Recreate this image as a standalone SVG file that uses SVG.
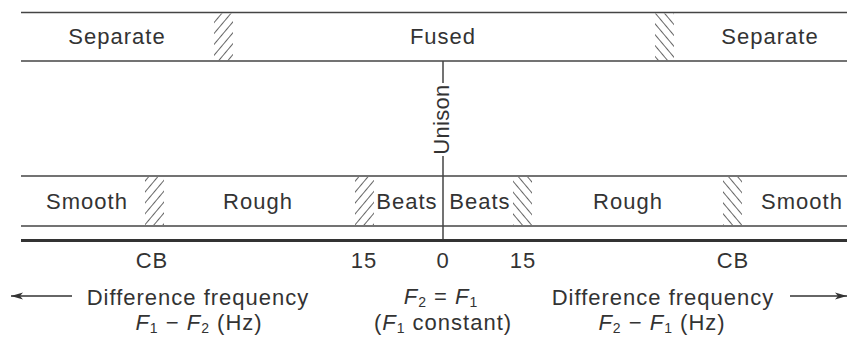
<svg xmlns="http://www.w3.org/2000/svg" width="847" height="339" viewBox="0 0 847 339">
  <style>
    text { font-family: "Liberation Sans", Arial, Helvetica, sans-serif; font-size: 22px; fill: #333; letter-spacing: 1px; }
    .mid { text-anchor: middle; }
    .it { font-style: italic; }
    .sub { font-size: 14px; }
    .rule { stroke: #444; stroke-width: 1.5; fill: none; }
    .base { stroke: #333; stroke-width: 3; fill: none; }
    .arrow { stroke: #333; stroke-width: 1.5; fill: none; }
  </style>
  <defs>
    <pattern id="hatchUp" width="8" height="7" patternUnits="userSpaceOnUse" patternTransform="rotate(-50)">
      <line x1="0" y1="3.5" x2="8" y2="3.5" stroke="#666" stroke-width="1"/>
    </pattern>
    <pattern id="hatchDown" width="8" height="7" patternUnits="userSpaceOnUse" patternTransform="rotate(50)">
      <line x1="0" y1="3.5" x2="8" y2="3.5" stroke="#666" stroke-width="1"/>
    </pattern>
    <marker id="head" viewBox="0 0 12 8" refX="12" refY="4" markerWidth="12" markerHeight="8" markerUnits="userSpaceOnUse" orient="auto">
      <path d="M0,0.5 L12,4 L0,7.5 L3,4 Z" fill="#333"/>
    </marker>
  </defs>

  <!-- upper band: fusion -->
  <g id="fusion-band">
    <line class="rule" x1="21" y1="12.5" x2="847" y2="12.5"/>
    <line class="rule" x1="21" y1="61" x2="847" y2="61"/>
    <rect x="214" y="13.5" width="19" height="47" fill="url(#hatchUp)"/>
    <rect x="655" y="13.5" width="19" height="47" fill="url(#hatchDown)"/>
  </g>
  <g id="separate-left"><text class="mid" x="117" y="44">Separate</text></g>
  <g id="fused"><text class="mid" x="443" y="44">Fused</text></g>
  <g id="separate-right"><text class="mid" x="770" y="44">Separate</text></g>

  <!-- unison marker -->
  <g id="unison">
    <line class="rule" x1="443" y1="61" x2="443" y2="83"/>
    <line class="rule" x1="443" y1="156" x2="443" y2="240"/>
    <text class="mid" transform="translate(449,119.5) rotate(-90)" x="0" y="0" style="letter-spacing:0.3px">Unison</text>
  </g>

  <!-- lower band: roughness -->
  <g id="roughness-band">
    <line class="rule" x1="21" y1="176" x2="847" y2="176"/>
    <line class="rule" x1="21" y1="226" x2="847" y2="226"/>
    <rect x="145" y="177" width="19" height="48" fill="url(#hatchUp)"/>
    <rect x="355" y="177" width="19" height="48" fill="url(#hatchUp)"/>
    <rect x="513" y="177" width="19" height="48" fill="url(#hatchDown)"/>
    <rect x="723" y="177" width="19" height="48" fill="url(#hatchDown)"/>
  </g>
  <g id="smooth-left"><text class="mid" x="87" y="209">Smooth</text></g>
  <g id="rough-left"><text class="mid" x="258" y="209">Rough</text></g>
  <g id="beats-left"><text class="mid" x="407" y="209">Beats</text></g>
  <g id="beats-right"><text class="mid" x="480" y="209">Beats</text></g>
  <g id="rough-right"><text class="mid" x="628" y="209">Rough</text></g>
  <g id="smooth-right"><text class="mid" x="802" y="209">Smooth</text></g>

  <!-- frequency axis -->
  <g id="axis">
    <line class="base" x1="21" y1="240.5" x2="847" y2="240.5"/>
    <text class="mid" x="152" y="268">CB</text>
    <text class="mid" x="364" y="268">15</text>
    <text class="mid" x="443" y="268">0</text>
    <text class="mid" x="523" y="268">15</text>
    <text class="mid" x="733" y="268">CB</text>
  </g>

  <g id="connectors">
    <line class="arrow" x1="72" y1="296" x2="11" y2="296" marker-end="url(#head)"/>
    <line class="arrow" x1="790" y1="296" x2="847" y2="296" marker-end="url(#head)"/>
  </g>

  <g id="label-left">
    <text class="mid" x="198" y="305">Difference frequency</text>
    <text class="mid" x="199" y="330"><tspan class="it">F</tspan><tspan class="sub" dy="3">1</tspan><tspan dy="-3"> − </tspan><tspan class="it">F</tspan><tspan class="sub" dy="3">2</tspan><tspan dy="-3"> (Hz)</tspan></text>
  </g>
  <g id="label-center">
    <text class="mid" x="441" y="304"><tspan class="it">F</tspan><tspan class="sub" dy="3">2</tspan><tspan dy="-3"> = </tspan><tspan class="it">F</tspan><tspan class="sub" dy="3">1</tspan></text>
    <text class="mid" x="443" y="330">(<tspan class="it">F</tspan><tspan class="sub" dy="3">1</tspan><tspan dy="-3"> constant)</tspan></text>
  </g>
  <g id="label-right">
    <text class="mid" x="663" y="305">Difference frequency</text>
    <text class="mid" x="662" y="330"><tspan class="it">F</tspan><tspan class="sub" dy="3">2</tspan><tspan dy="-3"> − </tspan><tspan class="it">F</tspan><tspan class="sub" dy="3">1</tspan><tspan dy="-3"> (Hz)</tspan></text>
  </g>
</svg>
